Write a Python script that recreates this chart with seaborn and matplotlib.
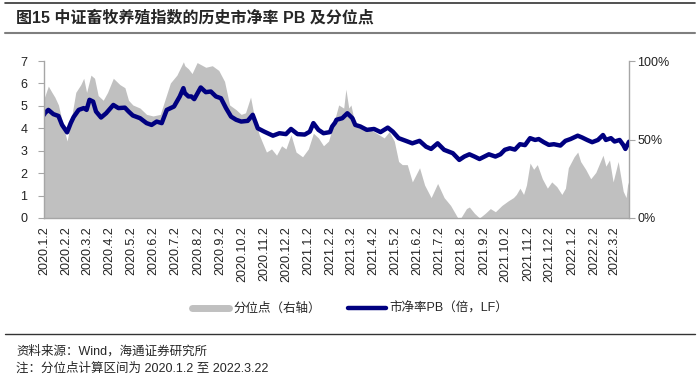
import matplotlib
matplotlib.use('Agg')
import matplotlib.pyplot as plt
import matplotlib.ticker as mticker
from matplotlib.lines import Line2D
import seaborn as sns
import pandas as pd

# %%
# 市净率PB (left axis)
pb_dates = [
    '2020-01-02', '2020-01-03', '2020-01-08', '2020-01-15', '2020-01-22', '2020-01-27',
    '2020-02-03', '2020-02-08', '2020-02-12', '2020-02-19', '2020-02-26', '2020-03-01',
    '2020-03-05', '2020-03-10', '2020-03-14', '2020-03-21', '2020-03-28', '2020-04-07',
    '2020-04-14', '2020-04-23', '2020-04-28', '2020-05-04', '2020-05-14', '2020-05-23',
    '2020-05-30', '2020-06-06', '2020-06-13', '2020-06-20', '2020-06-30', '2020-07-08',
    '2020-07-13', '2020-07-15', '2020-07-20', '2020-07-24', '2020-07-28', '2020-08-06',
    '2020-08-13', '2020-08-20', '2020-08-27', '2020-09-03', '2020-09-10', '2020-09-17',
    '2020-09-24', '2020-10-01', '2020-10-10', '2020-10-17', '2020-10-24', '2020-11-02',
    '2020-11-14', '2020-11-23', '2020-12-02', '2020-12-09', '2020-12-18', '2020-12-28',
    '2021-01-04', '2021-01-09', '2021-01-16', '2021-01-23', '2021-02-01', '2021-02-04',
    '2021-02-08', '2021-02-10', '2021-02-18', '2021-02-25', '2021-03-04', '2021-03-08',
    '2021-03-15', '2021-03-24', '2021-04-03', '2021-04-12', '2021-04-22', '2021-04-29',
    '2021-05-07', '2021-05-17', '2021-05-26', '2021-06-05', '2021-06-14', '2021-06-21',
    '2021-06-30', '2021-07-09', '2021-07-21', '2021-07-30', '2021-08-06', '2021-08-13',
    '2021-08-20', '2021-08-27', '2021-09-09', '2021-09-18', '2021-09-25', '2021-10-01',
    '2021-10-08', '2021-10-15', '2021-10-22', '2021-10-29', '2021-11-05', '2021-11-12',
    '2021-11-17', '2021-11-24', '2021-12-01', '2021-12-08', '2021-12-17', '2021-12-24',
    '2021-12-31', '2022-01-10', '2022-01-16', '2022-01-23', '2022-01-30', '2022-02-07',
    '2022-02-14', '2022-02-18', '2022-02-25', '2022-03-02', '2022-03-09', '2022-03-14',
    '2022-03-17', '2022-03-22',
]
pb_values = [
    4.60, 4.67, 4.82, 4.63, 4.55, 4.15,
    3.82, 4.23, 4.50, 4.82, 4.90, 4.82,
    5.27, 5.19, 4.75, 4.48, 4.67, 5.04,
    4.90, 4.92, 4.75, 4.57, 4.45, 4.23,
    4.15, 4.30, 4.23, 4.82, 4.97, 5.42,
    5.79, 5.57, 5.42, 5.42, 5.30, 5.82,
    5.61, 5.64, 5.42, 5.34, 4.90, 4.52,
    4.38, 4.30, 4.33, 4.60, 4.00, 3.85,
    3.67, 3.78, 3.74, 3.97, 3.74, 3.72,
    3.85, 4.23, 3.93, 3.78, 3.83, 4.08,
    4.25, 4.38, 4.45, 4.67, 4.45, 4.15,
    4.08, 3.93, 3.97, 3.83, 4.03, 3.85,
    3.56, 3.44, 3.33, 3.44, 3.18, 3.08,
    3.33, 3.04, 2.89, 2.59, 2.74, 2.84,
    2.74, 2.63, 2.84, 2.74, 2.84, 3.04,
    3.11, 3.05, 3.29, 3.25, 3.56, 3.48,
    3.52, 3.38, 3.26, 3.29, 3.23, 3.44,
    3.52, 3.67, 3.59, 3.48, 3.38, 3.48,
    3.70, 3.48, 3.56, 3.41, 3.48, 3.26,
    3.08, 3.40,
]

# 分位点 (right axis)
pct_dates = [
    '2020-01-02', '2020-01-08', '2020-01-13', '2020-01-17', '2020-01-22', '2020-01-29',
    '2020-02-03', '2020-02-08', '2020-02-15', '2020-02-22', '2020-02-26', '2020-03-01',
    '2020-03-07', '2020-03-12', '2020-03-17', '2020-03-24', '2020-03-30', '2020-04-07',
    '2020-04-16', '2020-04-23', '2020-04-28', '2020-05-04', '2020-05-14', '2020-05-23',
    '2020-06-01', '2020-06-11', '2020-06-18', '2020-06-25', '2020-07-04', '2020-07-13',
    '2020-07-15', '2020-07-20', '2020-07-25', '2020-08-01', '2020-08-13', '2020-08-22',
    '2020-08-31', '2020-09-08', '2020-09-15', '2020-09-24', '2020-10-01', '2020-10-07',
    '2020-10-14', '2020-10-19', '2020-10-26', '2020-11-05', '2020-11-12', '2020-11-19',
    '2020-11-26', '2020-12-02', '2020-12-09', '2020-12-16', '2020-12-25', '2021-01-02',
    '2021-01-09', '2021-01-16', '2021-01-23', '2021-01-30', '2021-02-06', '2021-02-13',
    '2021-02-20', '2021-02-23', '2021-02-27', '2021-03-02', '2021-03-08', '2021-03-20',
    '2021-04-03', '2021-04-17', '2021-04-24', '2021-05-01', '2021-05-07', '2021-05-12',
    '2021-05-19', '2021-05-26', '2021-06-05', '2021-06-12', '2021-06-21', '2021-06-30',
    '2021-07-09', '2021-07-18', '2021-07-28', '2021-08-01', '2021-08-09', '2021-08-13',
    '2021-08-20', '2021-08-27', '2021-09-04', '2021-09-11', '2021-09-18', '2021-09-27',
    '2021-10-06', '2021-10-13', '2021-10-17', '2021-10-22', '2021-10-27', '2021-10-31',
    '2021-11-05', '2021-11-10', '2021-11-15', '2021-11-22', '2021-11-29', '2021-12-05',
    '2021-12-12', '2021-12-19', '2021-12-24', '2021-12-28', '2022-01-05', '2022-01-10',
    '2022-01-14', '2022-01-21', '2022-01-28', '2022-02-04', '2022-02-14', '2022-02-18',
    '2022-02-23', '2022-02-28', '2022-03-07', '2022-03-14', '2022-03-18', '2022-03-20',
    '2022-03-22',
]
pct_values = [
    0.76, 0.84, 0.80, 0.77, 0.72, 0.58,
    0.49, 0.61, 0.80, 0.85, 0.89, 0.80,
    0.91, 0.89, 0.78, 0.75, 0.80, 0.89,
    0.85, 0.83, 0.75, 0.72, 0.70, 0.66,
    0.65, 0.66, 0.76, 0.86, 0.91, 0.995,
    0.97, 0.95, 0.92, 0.99, 0.96, 0.97,
    0.94, 0.87, 0.72, 0.69, 0.66, 0.67,
    0.77, 0.65, 0.53, 0.42, 0.44, 0.40,
    0.46, 0.44, 0.53, 0.42, 0.39, 0.44,
    0.54, 0.51, 0.46, 0.49, 0.60, 0.72,
    0.70, 0.82, 0.70, 0.72, 0.59, 0.57,
    0.55, 0.51, 0.55, 0.49, 0.36, 0.34,
    0.34, 0.23, 0.32, 0.21, 0.13, 0.22,
    0.13, 0.08, 0.00, 0.00, 0.06, 0.07,
    0.03, 0.00, 0.03, 0.06, 0.04, 0.08,
    0.11, 0.13, 0.15, 0.19, 0.15, 0.21,
    0.35, 0.31, 0.34, 0.25, 0.19, 0.23,
    0.20, 0.15, 0.19, 0.32, 0.39, 0.42,
    0.36, 0.31, 0.25, 0.29, 0.40, 0.33,
    0.37, 0.23, 0.36, 0.17, 0.13, 0.21,
    0.24,
]

tick_labels = ['2020.1.2', '2020.2.2', '2020.3.2', '2020.4.2', '2020.5.2', '2020.6.2',
               '2020.7.2', '2020.8.2', '2020.9.2', '2020.10.2', '2020.11.2', '2020.12.2',
               '2021.1.2', '2021.2.2', '2021.3.2', '2021.4.2', '2021.5.2', '2021.6.2',
               '2021.7.2', '2021.8.2', '2021.9.2', '2021.10.2', '2021.11.2', '2021.12.2',
               '2022.1.2', '2022.2.2', '2022.3.2']

title = '图15 中证畜牧养殖指数的历史市净率 PB 及分位点'
source_note = '资料来源：Wind，海通证券研究所'
range_note = '注：分位点计算区间为 2020.1.2 至 2022.3.22'

# %%
pb = pd.DataFrame({'date': pd.to_datetime(pb_dates), 'pb': pb_values})
pct = pd.DataFrame({'date': pd.to_datetime(pct_dates), 'pct': pct_values})
ticks = pd.to_datetime(tick_labels, format='%Y.%m.%d')

sns.set_style('white')
plt.rcParams['font.family'] = ['Liberation Sans', 'Noto Sans CJK SC']
plt.rcParams['axes.unicode_minus'] = False

fig = plt.figure(figsize=(7, 3.81), dpi=100)
ax = fig.add_axes([44 / 700, 1 - 218 / 381, 585 / 700, 157 / 381])
ax2 = ax.twinx()
ax.set_zorder(ax2.get_zorder() + 1)
ax.patch.set_visible(False)

grey = '#C0C0C0'
navy = '#000080'
spine_c = '#A6A6A6'

ax2.fill_between(pct['date'], 0, pct['pct'], color=grey, lw=0)
sns.lineplot(data=pb, x='date', y='pb', ax=ax, color=navy, lw=3.2, legend=False)

ax.set_xlim(pd.Timestamp('2020-01-02'), pd.Timestamp('2022-03-22'))
ax.set_ylim(0, 7)
ax2.set_ylim(0, 1)
ax.set_yticks(range(0, 8))
ax2.set_yticks([0, 0.5, 1])
ax2.yaxis.set_major_formatter(mticker.PercentFormatter(xmax=1, decimals=0))
ax.set_xticks(ticks)
ax.set_xticklabels(tick_labels, rotation=90, fontsize=9)
ax.set_xlabel('')
ax.set_ylabel('')

for a in (ax, ax2):
    for s in a.spines.values():
        s.set_visible(False)
ax.spines['left'].set_visible(True)
ax.spines['bottom'].set_visible(True)
ax2.spines['right'].set_visible(True)
for s in (ax.spines['left'], ax.spines['bottom'], ax2.spines['right']):
    s.set_color(spine_c)
    s.set_linewidth(1)

ax.tick_params(axis='both', which='major', direction='out', length=4, width=0.8,
               color=spine_c, labelsize=9, labelcolor='#222222', pad=2)
ax.tick_params(axis='y', pad=8)
ax2.tick_params(axis='y', direction='out', length=4, width=0.8, color=spine_c,
                labelsize=9, labelcolor='#222222', pad=2)

# legend
handles = [Line2D([], [], color=grey, lw=5), Line2D([], [], color=navy, lw=3.2)]
fig.legend(handles, ['分位点（右轴）', '市净率PB（倍，LF）'], loc='center',
           bbox_to_anchor=(350 / 700, 1 - 309 / 381), ncol=2, frameon=False,
           fontsize=9, handlelength=3, columnspacing=2.2, handletextpad=0.3)

# title, rules, footer
fig.text(16 / 700, 1 - 18 / 381, title, fontsize=11.5, fontweight='bold', va='center')
fig.add_artist(Line2D([5 / 700, 695 / 700], [1 - 3 / 381] * 2, color='#333333', lw=1.2))
fig.add_artist(Line2D([5 / 700, 695 / 700], [1 - 33 / 381] * 2, color='#7F7F7F', lw=1.5))
fig.add_artist(Line2D([5 / 700, 695 / 700], [1 - 334 / 381] * 2, color='#333333', lw=1))
fig.text(16 / 700, 1 - 351 / 381, source_note, fontsize=9, va='center')
fig.text(16 / 700, 1 - 369 / 381, range_note, fontsize=9, va='center')

fig.savefig('out.png', dpi=100, facecolor='white')
